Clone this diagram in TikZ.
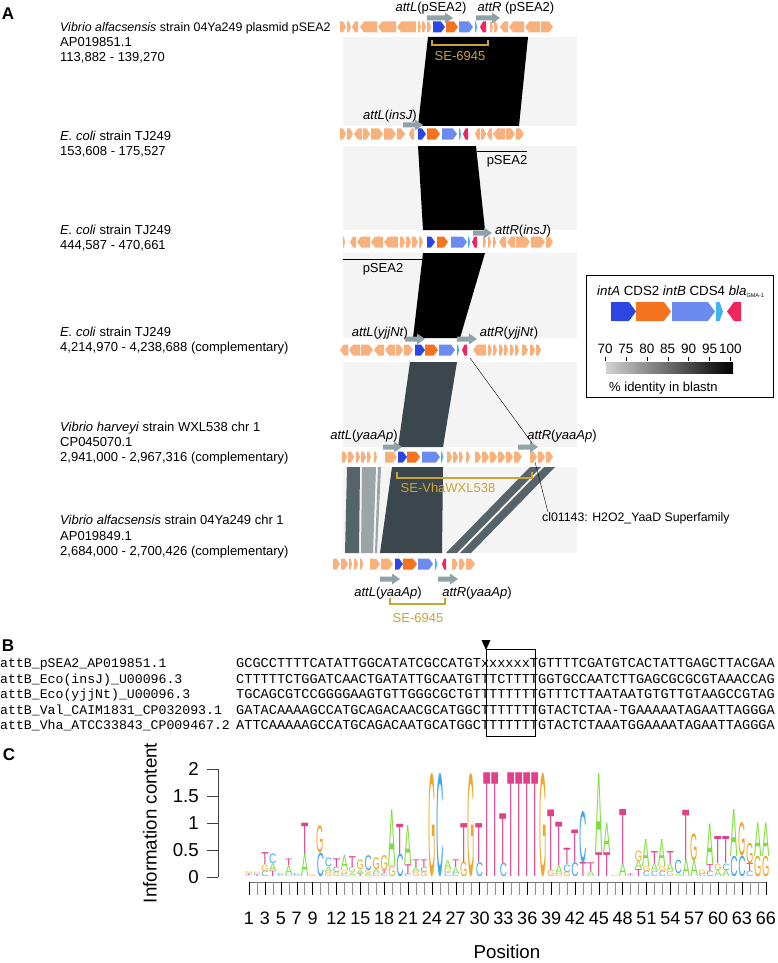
\documentclass[tikz,border=0pt]{standalone}
\usepackage{fontspec}
\setmainfont{Liberation Sans}
\newfontfamily\seqfont{Liberation Mono}
\usepackage{graphicx}

\definecolor{peach}{HTML}{F8B07C}
\definecolor{intAblue}{HTML}{2B46E3}
\definecolor{cdsorange}{HTML}{F5731F}
\definecolor{intBblue}{HTML}{6C8BF0}
\definecolor{cdssky}{HTML}{3CB4F0}
\definecolor{blared}{HTML}{F0255C}
\definecolor{attgrey}{HTML}{8FA2A7}
\definecolor{segold}{HTML}{C9A535}
\definecolor{panelgrey}{HTML}{F4F4F4}
\definecolor{hitdark}{HTML}{3C474D}
\definecolor{hitmid}{HTML}{56646A}
\definecolor{hitlight}{HTML}{9BA5A8}
\definecolor{colA}{HTML}{7FDD3F}
\definecolor{colC}{HTML}{47A9E8}
\definecolor{colG}{HTML}{EDA82C}
\definecolor{colT}{HTML}{E0418A}

% gene arrow: [half height]{x1}{x2}{y}{dir}{colour}
\newcommand\gene[6][5.5]{%
  \pgfmathsetmacro\gl{min(0.75*#1,(#3-#2)/2)}%
  \ifnum#5>0
    \fill[#6] (#2,#4-#1) -- ({#3-\gl},#4-#1) -- (#3,#4) -- ({#3-\gl},#4+#1) -- (#2,#4+#1) -- cycle;
  \else
    \fill[#6] (#3,#4-#1) -- ({#2+\gl},#4-#1) -- (#2,#4) -- ({#2+\gl},#4+#1) -- (#3,#4+#1) -- cycle;
  \fi}
% att site arrow
\newcommand\attarrow[3]{%
  \fill[attgrey] (#1,#3-2.5) -- ({#2-8},#3-2.5) -- ({#2-8},#3-5.5) -- (#2,#3)
    -- ({#2-8},#3+5.5) -- ({#2-8},#3+2.5) -- (#1,#3+2.5) -- cycle;}
% one column of the logo, letters bottom to top
\newcommand\logostack[2]{%
  \gdef\lgbase{0}%
  \foreach \ltr/\hgt in {#2}{%
    \pgfmathsetlengthmacro\hh{\hgt*54}%
    \node[anchor=south] (l#1\ltr) at ({249+(#1-1)*7.95},{877-\lgbase*54})
      {\resizebox*{7.3pt}{\hh}{\textcolor{col\ltr}{\ltr}}};%
    \pgfmathsetmacro\nb{\lgbase+\hgt}\xdef\lgbase{\nb}%
  }}

\begin{document}
\begin{tikzpicture}[x=1pt, y=-1pt,
    every node/.style={inner sep=0pt, font=\fontsize{13}{15}\selectfont},
    lbl/.style={anchor=base west},
    att/.style={anchor=base},
    legendtext/.style={font=\fontsize{13.3}{15}\selectfont},
    panelletter/.style={font=\fontsize{17}{20}\selectfont\bfseries},
    sebracket/.style={segold, line width=1.6pt},
    seqname/.style={anchor=base west, font=\seqfont\fontsize{13.2}{15}\selectfont},
    seqline/.style={anchor=base west, font=\seqfont\fontsize{13.6}{15}\selectfont},
    axislabel/.style={font=\fontsize{18.7}{22}\selectfont}
    ]
  \useasboundingbox (0,0) rectangle (778,963);

  %% panel A
  \node[panelletter] (pA) at (8,14) {A};
  \node[lbl, font=\fontsize{12.4}{14}\selectfont] (v1a) at (60,31.5) {\textit{Vibrio alfacsensis} strain 04Ya249 plasmid pSEA2};
  \node[lbl] (v1b) at (60,46.5) {AP019851.1};
  \node[lbl] (v1c) at (60,61.5) {113,882 - 139,270};
  \node[lbl] (e2a) at (60,140.5) {\textit{E. coli} strain TJ249};
  \node[lbl] (e2b) at (60,155.5) {153,608 - 175,527};
  \node[lbl] (e3a) at (60,234.5) {\textit{E. coli} strain TJ249};
  \node[lbl] (e3b) at (60,249.5) {444,587 - 470,661};
  \node[lbl] (e4a) at (60,336.5) {\textit{E. coli} strain TJ249};
  \node[lbl] (e4b) at (60,351.5) {4,214,970 - 4,238,688 (complementary)};
  \node[lbl] (h5a) at (60,431.5) {\textit{Vibrio harveyi} strain WXL538 chr 1};
  \node[lbl] (h5b) at (60,446.5) {CP045070.1};
  \node[lbl] (h5c) at (60,461.5) {2,941,000 - 2,967,316 (complementary)};
  \node[lbl] (v6a) at (60,524.5) {\textit{Vibrio alfacsensis} strain 04Ya249 chr 1};
  \node[lbl] (v6b) at (60,540.5) {AP019849.1};
  \node[lbl] (v6c) at (60,555.5) {2,684,000 - 2,700,426 (complementary)};

  % comparison panels and blastn hits
  \fill[panelgrey] (343,37) rectangle (577,126);
  \fill[panelgrey] (343,146) rectangle (577,230);
  \fill[panelgrey] (343,253) rectangle (577,338);
  \fill[panelgrey] (343,362) rectangle (577,447);
  \fill[panelgrey] (343,467) rectangle (577,553);
  \fill[black] (428,37) -- (528,37) -- (519,126) -- (418,126) -- cycle;
  \fill[black] (418,146) -- (476,146) -- (485,230) -- (423,230) -- cycle;
  \fill[black] (423,253) -- (485,253) -- (460,338) -- (413,338) -- cycle;
  \fill[hitdark] (410,362) -- (457,362) -- (443,447) -- (398,447) -- cycle;
  \fill[hitdark] (392,467) -- (443,467) -- (442,553) -- (380,553) -- cycle;
  \fill[hitmid] (347,467) -- (360,467) -- (359,553) -- (345,553) -- cycle;
  \fill[hitlight] (362,467) -- (376,467) -- (373,553) -- (361,553) -- cycle;
  \fill[hitlight] (378,467) -- (381,467) -- (377,553) -- (375,553) -- cycle;
  \fill[hitmid] (530,467) -- (541,467) -- (457,553) -- (446,553) -- cycle;
  \fill[hitmid] (544,467) -- (555,467) -- (471,553) -- (460,553) -- cycle;

  % track 1
  \foreach \xa/\xb/\dr in {340/346/1,347/351/1,352/358/-1,360/377/-1,378/396/-1,397/416/-1,
      418/421/1,422/426/1,427/431/1,490/493/1,494/498/1,500/508/-1,509/524/-1,525/540/-1,541/553/1}
    {\gene{\xa}{\xb}{27}{\dr}{peach}}
  \gene{433}{445}{27}{1}{intAblue}
  \gene{446}{458}{27}{1}{cdsorange}
  \gene{459}{473}{27}{1}{intBblue}
  \gene{475}{477}{27}{1}{cdssky}
  \gene{480}{486}{27}{-1}{blared}
  % track 2
  \foreach \xa/\xb/\dr in {340/346/1,347/353/1,354/362/-1,363/370/1,371/383/1,384/396/1,397/405/1,
      409/414/-1,475/480/-1,481/486/1,487/492/-1,493/505/-1,506/515/1,516/524/1}
    {\gene{\xa}{\xb}{134}{\dr}{peach}}
  \gene{418}{426}{134}{1}{intAblue}
  \gene{427}{440}{134}{1}{cdsorange}
  \gene{442}{457}{134}{1}{intBblue}
  \gene{459}{461}{134}{1}{cdssky}
  \gene{463}{468}{134}{-1}{blared}
  % track 3
  \foreach \xa/\xb/\dr in {343/345/1,350/356/-1,357/370/-1,371/383/-1,384/398/-1,400/405/1,406/411/1,
      412/418/1,419/423/1,483/486/1,488/491/1,493/496/1,499/506/-1,507/515/-1,516/530/1,531/545/1,546/553/1}
    {\gene{\xa}{\xb}{242}{\dr}{peach}}
  \gene{427}{435}{242}{1}{intAblue}
  \gene{437}{448}{242}{1}{cdsorange}
  \gene{451}{467}{242}{1}{intBblue}
  \gene{468}{470}{242}{1}{cdssky}
  \gene{472}{477}{242}{-1}{blared}
  % track 4
  \foreach \xa/\xb/\dr in {340/348/-1,349/360/-1,361/373/1,374/384/-1,385/395/-1,396/403/1,404/413/1,
      473/486/-1,488/492/1,493/497/1,499/503/1,504/508/1,510/514/1,515/519/1,522/528/1,530/535/1,536/541/1}
    {\gene{\xa}{\xb}{350}{\dr}{peach}}
  \gene{415}{425}{350}{1}{intAblue}
  \gene{425}{438}{350}{1}{cdsorange}
  \gene{439}{455}{350}{1}{intBblue}
  \gene{457}{459}{350}{1}{cdssky}
  \gene{462}{467}{350}{-1}{blared}
  % track 5
  \foreach \xa/\xb/\dr in {342/347/1,348/354/1,356/360/1,361/366/1,367/371/1,374/377/1,385/397/1,
      447/452/1,453/458/1,459/463/1,466/470/1,475/481/1,482/489/1,490/497/1,498/505/1,506/513/1,
      514/522/1,530/537/1,538/545/1,546/553/1}
    {\gene{\xa}{\xb}{457}{\dr}{peach}}
  \gene{398}{407}{457}{1}{intAblue}
  \gene{407}{420}{457}{1}{cdsorange}
  \gene{422}{440}{457}{1}{intBblue}
  \gene{441}{443}{457}{1}{cdssky}
  % track 6
  \foreach \xa/\xb/\dr in {333/340/1,341/348/1,349/352/1,354/358/1,360/363/1,370/380/1,381/393/1,
      452/458/1,459/465/1,466/475/1}
    {\gene{\xa}{\xb}{564}{\dr}{peach}}
  \gene{395}{403}{564}{1}{intAblue}
  \gene{403}{417}{564}{1}{cdsorange}
  \gene{418}{433}{564}{1}{intBblue}
  \gene{435}{437}{564}{1}{cdssky}
  \gene{442}{446}{564}{-1}{blared}

  % att sites
  \attarrow{427}{453}{18} \attarrow{476}{500}{18}
  \attarrow{403}{423}{125}
  \attarrow{473}{492}{233}
  \attarrow{405}{425}{339} \attarrow{457}{477}{339}
  \attarrow{383}{402}{447} \attarrow{518}{538}{447}
  \attarrow{380}{400}{579} \attarrow{438}{458}{579}
  \node[att] (aL1) at (431,11.5) {\textit{attL}(pSEA2)};
  \node[att] (aR1) at (516,11.5) {\textit{attR} (pSEA2)};
  \node[att] (aL2) at (390,119.5) {\textit{attL}(\textit{insJ})};
  \node[att] (aR3) at (523,234.5) {\textit{attR}(\textit{insJ})};
  \node[att] (aL4) at (380,336) {\textit{attL}(\textit{yjjNt})};
  \node[att] (aR4) at (509,336.5) {\textit{attR}(\textit{yjjNt})};
  \node[att] (aL5) at (364,439.5) {\textit{attL}(\textit{yaaAp})};
  \node[att] (aR5) at (562,439.5) {\textit{attR}(\textit{yaaAp})};
  \node[att] (aL6) at (388,596.5) {\textit{attL}(\textit{yaaAp})};
  \node[att] (aR6) at (477,596.5) {\textit{attR}(\textit{yaaAp})};

  % pSEA2 extent
  \draw[thick] (477,151) -- (527,151);
  \node[att] (ps2) at (507,164.4) {pSEA2};
  \draw[thick] (343,259) -- (422,259);
  \node[att] (ps3) at (383,272.4) {pSEA2};

  % SE brackets
  \draw[sebracket] (432,40) -- (432,45) -- (488,45) -- (488,40);
  \node[att, text=segold] (se1) at (460,60.4) {SE-6945};
  \draw[sebracket] (397,472) -- (397,478) -- (532,478) -- (532,472);
  \node[att, text=segold] (se5) at (448,492.4) {SE-VhaWXL538};
  \draw[sebracket] (390,598) -- (390,604) -- (445,604) -- (445,598);
  \node[att, text=segold] (se6) at (418,622.4) {SE-6945};

  % cl01143 pointer
  \node[lbl, font=\fontsize{12.3}{14}\selectfont] (cl) at (542,521.4) {cl01143: H2O2\_YaaD Superfamily};
  \coordinate (g4) at (470,358);
  \coordinate (g5a) at (532,443);
  \coordinate (g5b) at (535,462);
  \draw (g4) -- (g5a);
  \draw (g5b) -- ([xshift=6pt]cl.north west);

  % legend
  \draw[line width=0.9pt] (586,275) rectangle (773,397);
  \node[lbl, legendtext] (lgt) at (597,295) {\textit{intA} CDS2 \textit{intB} CDS4 \textit{bla}\raisebox{-2pt}{\fontsize{5.5}{6}\selectfont GMA-1}};
  \gene[9.5]{611}{636}{311.5}{1}{intAblue}
  \gene[9.5]{636}{671}{311.5}{1}{cdsorange}
  \gene[9.5]{672}{715}{311.5}{1}{intBblue}
  \gene[9.5]{716}{723}{311.5}{1}{cdssky}
  \gene[9.5]{727}{741}{311.5}{-1}{blared}
  \foreach \v [count=\i from 0] in {70,75,80,85,90,95,100}{
    \node[att, font=\fontsize{13.5}{16}\selectfont] (sc\v) at ({605+\i*20.9},353) {\v};
    \draw ({605+\i*20.9},357) -- ++(0,4);
  }
  \shade[left color=black!18, right color=black] (606,362) rectangle (733,373);
  \node[lbl] (idt) at (609,391.5) {\% identity in blastn};

  %% panel B
  \node[panelletter] (pB) at (8,646) {B};
  \node[seqname] (nm1) at (0,667) {attB\_pSEA2\_AP019851.1};
  \node[seqname] (nm2) at (0,683) {attB\_Eco(insJ)\_U00096.3};
  \node[seqname] (nm3) at (0,698) {attB\_Eco(yjjNt)\_U00096.3};
  \node[seqname] (nm4) at (0,714) {attB\_Val\_CAIM1831\_CP032093.1};
  \node[seqname] (nm5) at (0,729) {attB\_Vha\_ATCC33843\_CP009467.2};
  \node[seqline] (sq1) at (236,667) {GCGCCTTTTCATATTGGCATATCGCCATGTxxxxxxTGTTTTCGATGTCACTATTGAGCTTACGAA};
  \node[seqline] (sq2) at (236,683) {CTTTTTCTGGATCAACTGATATTGCAATGTTTCTTTTGGTGCCAATCTTGAGCGCGCGTAAACCAG};
  \node[seqline] (sq3) at (236,698) {TGCAGCGTCCGGGGAAGTGTTGGGCGCTGTTTTTTTTGTTTCTTAATAATGTGTTGTAAGCCGTAG};
  \node[seqline] (sq4) at (236,714) {GATACAAAAGCCATGCAGACAACGCATGGCTTTTTTTGTACTCTAA-TGAAAAATAGAATTAGGGA};
  \node[seqline] (sq5) at (236,729) {ATTCAAAAAGCCATGCAGACAATGCATGGCTTTTTTTGTACTCTAAATGGAAAATAGAATTAGGGA};
  \draw[thick] (486,649) rectangle (535,736);
  \fill (481.5,640) -- (490.5,640) -- (486,650) -- cycle;

  %% panel C
  \node[panelletter] (pC) at (9,755) {C};
  \draw[black!75] (218,769) -- (218,877);
  \foreach \v/\t in {0/0,0.5/0.5,1/1,1.5/1.5,2/2}{
    \draw[black!75] (207,{877-\v*54}) -- (218,{877-\v*54});
    \node[axislabel, anchor=east] (yt\v) at (199,{877-\v*54}) {\t};
  }
  \node[axislabel, rotate=90] (ylab) at (150,823) {Information content};
  \draw[black!55] (249,882) -- (766,882);
  \foreach \p in {1,...,66}
    \draw[black!45] ({249+(\p-1)*7.95},882) -- ++(0,13);
  \foreach \p in {1,3,5,7,9,12,15,...,66}{
    \draw[black] ({249+(\p-1)*7.95},882) -- ++(0,13);
    \node[axislabel, font=\fontsize{18}{20}\selectfont] (px\p) at ({249+(\p-1)*7.95},918) {\p};
  }
  \node[axislabel] (xlab) at (507,952) {Position};

  % sequence logo
  \logostack{1}{C/.03,T/.03,G/.04}
  \logostack{2}{T/.03,C/.03,G/.03}
  \logostack{3}{C/.1,G/.12,T/.22}
  \logostack{4}{T/.1,A/.14,C/.18}
  \logostack{5}{G/.03,C/.04}
  \logostack{6}{C/.03,A/.18,T/.12}
  \logostack{7}{G/.03,C/.04}
  \logostack{8}{A/.42,T/.58}
  \logostack{9}{G/.04}
  \logostack{10}{C/.44,G/.5}
  \logostack{11}{G/.08,A/.1,C/.16}
  \logostack{12}{G/.08,C/.1,T/.16}
  \logostack{13}{C/.05,G/.07,A/.28}
  \logostack{14}{A/.07,G/.1,T/.2}
  \logostack{15}{T/.05,A/.08,G/.18}
  \logostack{16}{A/.06,G/.06,C/.28}
  \logostack{17}{C/.06,A/.08,G/.22}
  \logostack{18}{C/.06,T/.05,G/.28}
  \logostack{19}{G/.2,A/1.05}
  \logostack{20}{C/.42,T/.56}
  \logostack{21}{C/.05,T/.18,A/.72}
  \logostack{22}{G/.08,A/.1,T/.14}
  \logostack{23}{G/.08,C/.1,T/.14}
  \logostack{24}{G/1.92}
  \logostack{25}{C/1.92}
  \logostack{26}{C/.07,G/.07,A/.16}
  \logostack{27}{C/.07,A/.1,T/.14}
  \logostack{28}{G/.27,T/.72}
  \logostack{29}{G/1.92}
  \logostack{30}{C/.26,T/.72}
  \logostack{31}{T/1.92}
  \logostack{32}{T/1.92}
  \logostack{33}{C/.25,T/.92}
  \logostack{34}{T/1.92}
  \logostack{35}{T/1.92}
  \logostack{36}{T/1.92}
  \logostack{37}{T/1.92}
  \logostack{38}{G/1.92}
  \logostack{39}{G/.12,T/1.12}
  \logostack{40}{G/.05,A/.16,T/.8}
  \logostack{41}{G/.08,C/.14,T/.3}
  \logostack{42}{C/.26,T/.6}
  \logostack{43}{T/.26,C/.96}
  \logostack{44}{A/.1,T/.16}
  \logostack{45}{T/.44,A/1.48}
  \logostack{46}{T/.44,A/.56}
  \logostack{47}{C/.02}
  \logostack{48}{A/.25,T/1.0}
  \logostack{49}{C/.03,T/.03}
  \logostack{50}{T/.13,A/.16,G/.2}
  \logostack{51}{C/.1,G/.1,A/.5}
  \logostack{52}{C/.1,A/.15,T/.22}
  \logostack{53}{C/.1,G/.1,A/.5}
  \logostack{54}{G/.1,A/.15,T/.22}
  \logostack{55}{A/.05,C/.25}
  \logostack{56}{A/.31,T/.93}
  \logostack{57}{A/.3,G/.5}
  \logostack{58}{C/.05,G/.08}
  \logostack{59}{C/.1,T/.13,A/.75}
  \logostack{60}{A/.12,G/.12,T/.5}
  \logostack{61}{A/.12,C/.12,T/.5}
  \logostack{62}{C/.38,A/.87}
  \logostack{63}{C/.38,G/.62}
  \logostack{64}{C/.1,T/.15,G/.38}
  \logostack{65}{G/.38,A/.62}
  \logostack{66}{G/.38,A/.62}
\end{tikzpicture}
\end{document}
